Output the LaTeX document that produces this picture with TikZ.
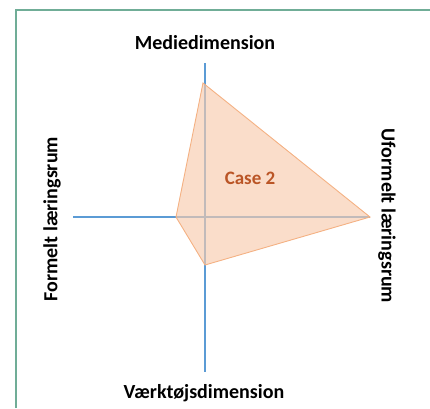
\documentclass[tikz,border=0pt]{standalone}
\usepackage{fontspec}
\setmainfont{Carlito}
\usepackage{tikz}

\definecolor{axisblue}{HTML}{5B9BD5}
\definecolor{casefill}{HTML}{F8CBAD}
\definecolor{caseline}{HTML}{F4B183}
\definecolor{casetext}{HTML}{BA5526}
\definecolor{framegreen}{HTML}{70AD97}

\begin{document}
\begin{tikzpicture}
      [x=1pt, y=-1pt, label/.style={font=\fontsize{20}{24}\selectfont\bfseries}]
      \useasboundingbox (0, 0) rectangle (430, 408);
      \draw[framegreen, line width=1.2pt](16, 408) -- (16, 10) -- (430, 10);

      % axes
      \coordinate(1) at (205, 63);
      \coordinate(2) at (205, 372);
      \coordinate(3) at (73, 217);
      \coordinate(4) at (370, 217);
      \draw[axisblue, line width=1.1pt](1) -- (2);
      \draw[axisblue, line width=1.1pt](3) -- (4);

      % case 2
      \coordinate(5) at (203, 83);
      \coordinate(6) at (370, 217);
      \coordinate(7) at (205, 265);
      \coordinate(8) at (176, 217);
      \draw[caseline, fill=casefill, fill opacity=0.65, line width=0.9pt]
        (5) -- (6) -- (7) -- (8) -- cycle;
      \node[casetext, font=\fontsize{19}{22}\selectfont\bfseries](9) at (250, 178) {Case 2};

      \node[label](10) at (205, 43) {Mediedimension};
      \node[label](11) at (204, 393) {Værktøjsdimension};
      \node[label, rotate=90](12) at (52, 219) {Formelt læringsrum};
      \node[label, rotate=-90](13) at (387, 216) {Uformelt læringsrum};
  \end{tikzpicture}
\end{document}
